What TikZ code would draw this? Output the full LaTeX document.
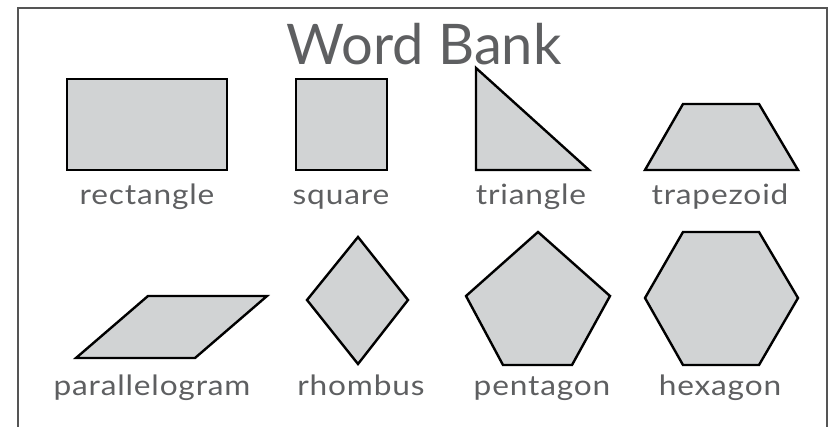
\documentclass[tikz,border=0pt]{standalone}
\usepackage{fontspec}
\setmainfont{Lato}
\newfontfamily\lblfont[LetterSpace=3,FakeStretch=1.13]{Lato}
\definecolor{shapefill}{HTML}{D1D3D4}
\definecolor{txtgray}{HTML}{5E5F61}
\definecolor{framegray}{HTML}{555555}
\begin{document}
\begin{tikzpicture}[x=1pt,y=-1pt,
  shp/.style={draw=black,line width=2.4pt,fill=shapefill,line join=miter},
  lbl/.style={text=txtgray,font=\lblfont\fontsize{28}{28}\selectfont,anchor=base,inner sep=0pt},
  ttl/.style={text=txtgray,font=\fontsize{56}{56}\selectfont,anchor=base,inner sep=0pt}]
\useasboundingbox (0,0) rectangle (837,427);
\draw[framegray,line width=1.5pt] (18,427) -- (18,8) -- (827,8) -- (827,427);
\node[ttl] (title) at (424,65) {Word Bank};
% row 1
\draw[shp] (67,79) rectangle (227,170);
\draw[shp] (296,79) rectangle (387,170);
\draw[shp] (476,68) -- (476,170) -- (589,170) -- cycle;
\draw[shp] (645,170) -- (683,104) -- (759,104) -- (798,170) -- cycle;
\node[lbl] (l1) at (147,205) {rectangle};
\node[lbl] (l2) at (341,205) {square};
\node[lbl] (l3) at (531,205) {triangle};
\node[lbl] (l4) at (720,205) {trapezoid};
% row 2
\draw[shp] (76,358) -- (148,296) -- (267,296) -- (195,358) -- cycle;
\draw[shp] (358,237) -- (408,300) -- (358,364) -- (307,300) -- cycle;
\draw[shp] (538,232) -- (610,296) -- (572,365) -- (503,365) -- (466,296) -- cycle;
\draw[shp] (683,232) -- (759,232) -- (798,298) -- (759,365) -- (683,365) -- (645,298) -- cycle;
\node[lbl] (l5) at (152,395) {parallelogram};
\node[lbl] (l6) at (361,395) {rhombus};
\node[lbl] (l7) at (542,395) {pentagon};
\node[lbl] (l8) at (720,395) {hexagon};
\end{tikzpicture}
\end{document}
